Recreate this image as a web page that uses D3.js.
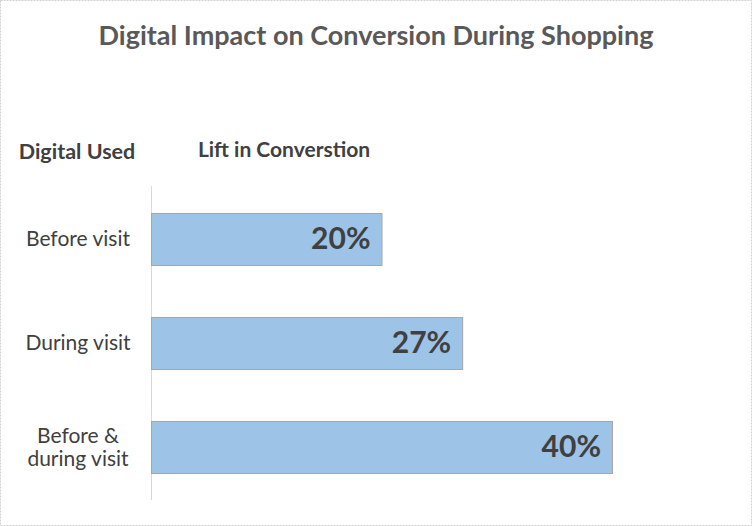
<!DOCTYPE html>
<html><head><meta charset="utf-8">
<script src="https://cdn.jsdelivr.net/npm/d3@7"></script>
<style>html,body{margin:0;padding:0;background:#fff;}svg{display:block;}</style>
</head><body>
<script>
const categories = [["Before visit"], ["During visit"], ["Before &", "during visit"]];
const values = [20, 27, 40];
const valueLabels = ["20%", "27%", "40%"];
const title = "Digital Impact on Conversion During Shopping";
const leftHeader = "Digital Used";
const rightHeader = "Lift in Converstion";

const W = 752, H = 526;
const svg = d3.select("body").append("svg").attr("width", W).attr("height", H);
svg.append("rect").attr("x", 0.5).attr("y", 0.5).attr("width", W - 1).attr("height", H - 1)
  .attr("fill", "#fff").attr("stroke", "#d0d0d0").attr("stroke-dasharray", "2,1");

const font = "Lato, 'Open Sans', sans-serif";
const x = d3.scaleLinear().domain([0, 40]).range([151, 612]);
const y = d3.scaleBand().domain(d3.range(values.length)).range([187, 499]).paddingInner(0.5).paddingOuter(0.25);

svg.append("text").attr("x", 376).attr("y", 45).attr("text-anchor", "middle")
  .attr("font-family", font).attr("font-weight", "bold").attr("font-size", 27).attr("fill", "#595959").text(title);
svg.append("text").attr("x", 77).attr("y", 159).attr("text-anchor", "middle")
  .attr("font-family", font).attr("font-weight", "bold").attr("font-size", 21.5).attr("fill", "#404040").text(leftHeader);
svg.append("text").attr("x", 284).attr("y", 157).attr("text-anchor", "middle")
  .attr("font-family", font).attr("font-weight", "bold").attr("font-size", 21).attr("fill", "#404040").text(rightHeader);

// axis line
svg.append("line").attr("x1", x(0) + 0.5).attr("x2", x(0) + 0.5).attr("y1", 186).attr("y2", 500)
  .attr("stroke", "#d9d9d9").attr("stroke-width", 1);

const g = svg.append("g");
g.selectAll("rect.bar").data(values).join("rect").attr("class", "bar")
  .attr("x", x(0) + 0.5).attr("y", (d, i) => Math.round(y(i)) + 0.5)
  .attr("width", d => x(d) - x(0)).attr("height", y.bandwidth())
  .attr("fill", "#9dc3e6").attr("stroke", "#a6a6a6").attr("stroke-width", 1);

g.selectAll("text.val").data(values).join("text").attr("class", "val")
  .attr("x", d => x(d) - 11).attr("y", (d, i) => y(i) + y.bandwidth() / 2 + 10)
  .attr("text-anchor", "end").attr("font-family", font).attr("font-weight", "bold")
  .attr("font-size", 30).attr("fill", "#404040").text((d, i) => valueLabels[i]);

categories.forEach((lines, i) => {
  const cy = y(i) + y.bandwidth() / 2;
  const t = svg.append("text").attr("text-anchor", "middle").attr("font-family", font)
    .attr("font-size", 21).attr("fill", "#404040");
  const lh = 23;
  lines.forEach((s, j) => {
    t.append("tspan").attr("x", 78).attr("y", cy + 7 + (j - (lines.length - 1) / 2) * lh).text(s);
  });
});
</script>
</body></html>
